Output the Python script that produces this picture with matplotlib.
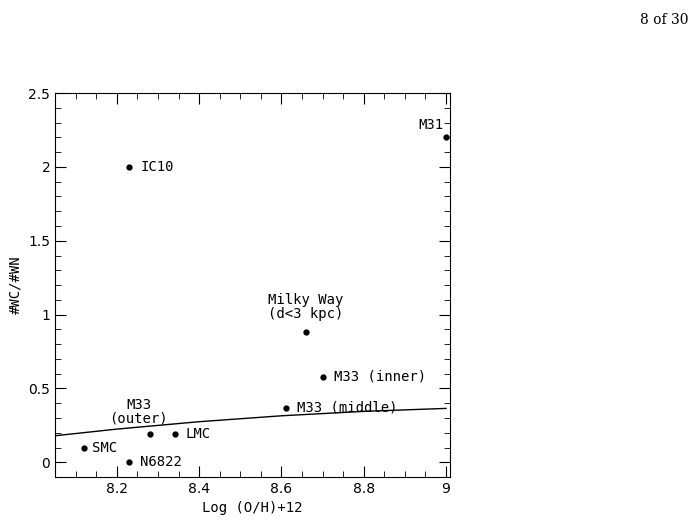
import matplotlib
matplotlib.use("Agg")
import matplotlib.pyplot as plt
from matplotlib.ticker import MultipleLocator

names = ["IC10", "M31", "Milky Way\n(d<3 kpc)", "M33 (inner)", "M33 (middle)",
         "M33\n(outer)", "LMC", "SMC", "N6822"]
oh = [8.23, 9.0, 8.66, 8.70, 8.61, 8.28, 8.34, 8.12, 8.23]
ratio = [2.0, 2.2, 0.88, 0.58, 0.37, 0.19, 0.19, 0.10, 0.0]
# label offsets (points) and alignment
offs = [(8, 0, "left", "center"), (-2, 4, "right", "bottom"), (0, 8, "center", "bottom"),
        (8, 0, "left", "center"), (8, 0, "left", "center"), (-8, 6, "center", "bottom"),
        (8, 0, "left", "center"), (6, 0, "left", "center"), (8, 0, "left", "center")]

curve_x = [8.05, 8.2, 8.3, 8.4, 8.5, 8.6, 8.7, 8.8, 8.9, 9.0]
curve_y = [0.18, 0.225, 0.25, 0.275, 0.295, 0.315, 0.33, 0.345, 0.355, 0.365]

fig = plt.figure(figsize=(6.99, 5.26), dpi=100)
ax = fig.add_axes([0.079, 0.093, 0.565, 0.730])
ax.plot(curve_x, curve_y, color="black", lw=1)
ax.plot(oh, ratio, "o", color="black", ms=3.5)
for n, x, y, (dx, dy, ha, va) in zip(names, oh, ratio, offs):
    ax.annotate(n, (x, y), xytext=(dx, dy), textcoords="offset points",
                ha=ha, va=va, fontsize=10, family="DejaVu Sans Mono", linespacing=1.0)

ax.set_xlim(8.05, 9.01)
ax.set_ylim(-0.1, 2.5)
ax.xaxis.set_minor_locator(MultipleLocator(0.05))
ax.yaxis.set_minor_locator(MultipleLocator(0.1))
ax.set_xticks([8.2, 8.4, 8.6, 8.8, 9.0], ["8.2", "8.4", "8.6", "8.8", "9"])
ax.set_yticks([0, 0.5, 1, 1.5, 2, 2.5], ["0", "0.5", "1", "1.5", "2", "2.5"])
ax.tick_params(which="both", direction="in", top=True, right=True, labelsize=10)
ax.tick_params(which="major", length=8)
ax.tick_params(which="minor", length=4)
ax.set_xlabel("Log (O/H)+12", fontsize=10, family="DejaVu Sans Mono")
ax.set_ylabel("#WC/#WN", fontsize=10, family="DejaVu Sans Mono")
fig.text(0.985, 0.975, "8 of 30", ha="right", va="top", fontsize=10, family="DejaVu Serif")
fig.savefig("out.png", dpi=100)
